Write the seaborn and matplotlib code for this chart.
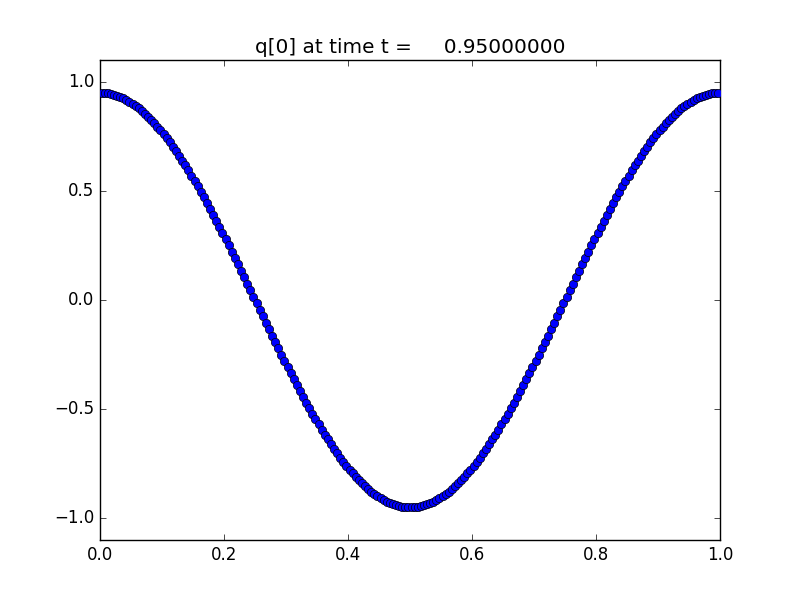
import numpy as np
import pandas as pd
import seaborn as sns
import matplotlib
matplotlib.use('Agg')
import matplotlib.pyplot as plt

# q[0] values, 200 cells on [0, 1]
q0 = [
    0.950, 0.949, 0.947, 0.944, 0.941, 0.936, 0.930, 0.924, 0.916, 0.908,
    0.899, 0.889, 0.878, 0.866, 0.853, 0.840, 0.825, 0.810, 0.794, 0.777,
    0.760, 0.741, 0.722, 0.703, 0.682, 0.661, 0.639, 0.617, 0.594, 0.570,
    0.546, 0.522, 0.496, 0.471, 0.445, 0.418, 0.391, 0.364, 0.336, 0.308,
    0.279, 0.251, 0.222, 0.193, 0.163, 0.134, 0.104, 0.075, 0.045, 0.015,
    -0.015, -0.045, -0.075, -0.104, -0.134, -0.163, -0.193, -0.222, -0.251, -0.279,
    -0.308, -0.336, -0.364, -0.391, -0.418, -0.445, -0.471, -0.496, -0.522, -0.546,
    -0.570, -0.594, -0.617, -0.639, -0.661, -0.682, -0.703, -0.722, -0.741, -0.760,
    -0.777, -0.794, -0.810, -0.825, -0.840, -0.853, -0.866, -0.878, -0.889, -0.899,
    -0.908, -0.916, -0.924, -0.930, -0.936, -0.941, -0.944, -0.947, -0.949, -0.950,
    -0.950, -0.949, -0.947, -0.944, -0.941, -0.936, -0.930, -0.924, -0.916, -0.908,
    -0.899, -0.889, -0.878, -0.866, -0.853, -0.840, -0.825, -0.810, -0.794, -0.777,
    -0.760, -0.741, -0.722, -0.703, -0.682, -0.661, -0.639, -0.617, -0.594, -0.570,
    -0.546, -0.522, -0.496, -0.471, -0.445, -0.418, -0.391, -0.364, -0.336, -0.308,
    -0.279, -0.251, -0.222, -0.193, -0.163, -0.134, -0.104, -0.075, -0.045, -0.015,
    0.015, 0.045, 0.075, 0.104, 0.134, 0.163, 0.193, 0.222, 0.251, 0.279,
    0.308, 0.336, 0.364, 0.391, 0.418, 0.445, 0.471, 0.496, 0.522, 0.546,
    0.570, 0.594, 0.617, 0.639, 0.661, 0.682, 0.703, 0.722, 0.741, 0.760,
    0.777, 0.794, 0.810, 0.825, 0.840, 0.853, 0.866, 0.878, 0.889, 0.899,
    0.908, 0.916, 0.924, 0.930, 0.936, 0.941, 0.944, 0.947, 0.949, 0.950,
]
t_frame = 0.95
x_ticks = [0.0, 0.2, 0.4, 0.6, 0.8, 1.0]
y_ticks = [-1.0, -0.5, 0.0, 0.5, 1.0]

# cell centres of the grid
mx = len(q0)
xc = (np.arange(mx) + 0.5) / mx
df = pd.DataFrame({'x': xc, 'q': q0})

plt.style.use('classic')
plt.rcParams['figure.facecolor'] = 'white'
plt.rcParams['savefig.facecolor'] = 'white'
plt.rcParams['font.family'] = ['DejaVu Sans']

fig, ax = plt.subplots(figsize=(8, 6), dpi=100)
sns.scatterplot(data=df, x='x', y='q', ax=ax, color='b', marker='o',
                s=36, edgecolor='k', linewidth=0.5, legend=False, zorder=3)

ax.set_xlim(0, 1)
ax.set_ylim(-1.1, 1.1)
ax.set_xticks(x_ticks)
ax.set_yticks(y_ticks)
ax.set_xlabel('')
ax.set_ylabel('')
ax.set_title('q[0] at time t = %14.8f' % t_frame)

plt.savefig('out.png', dpi=100)
